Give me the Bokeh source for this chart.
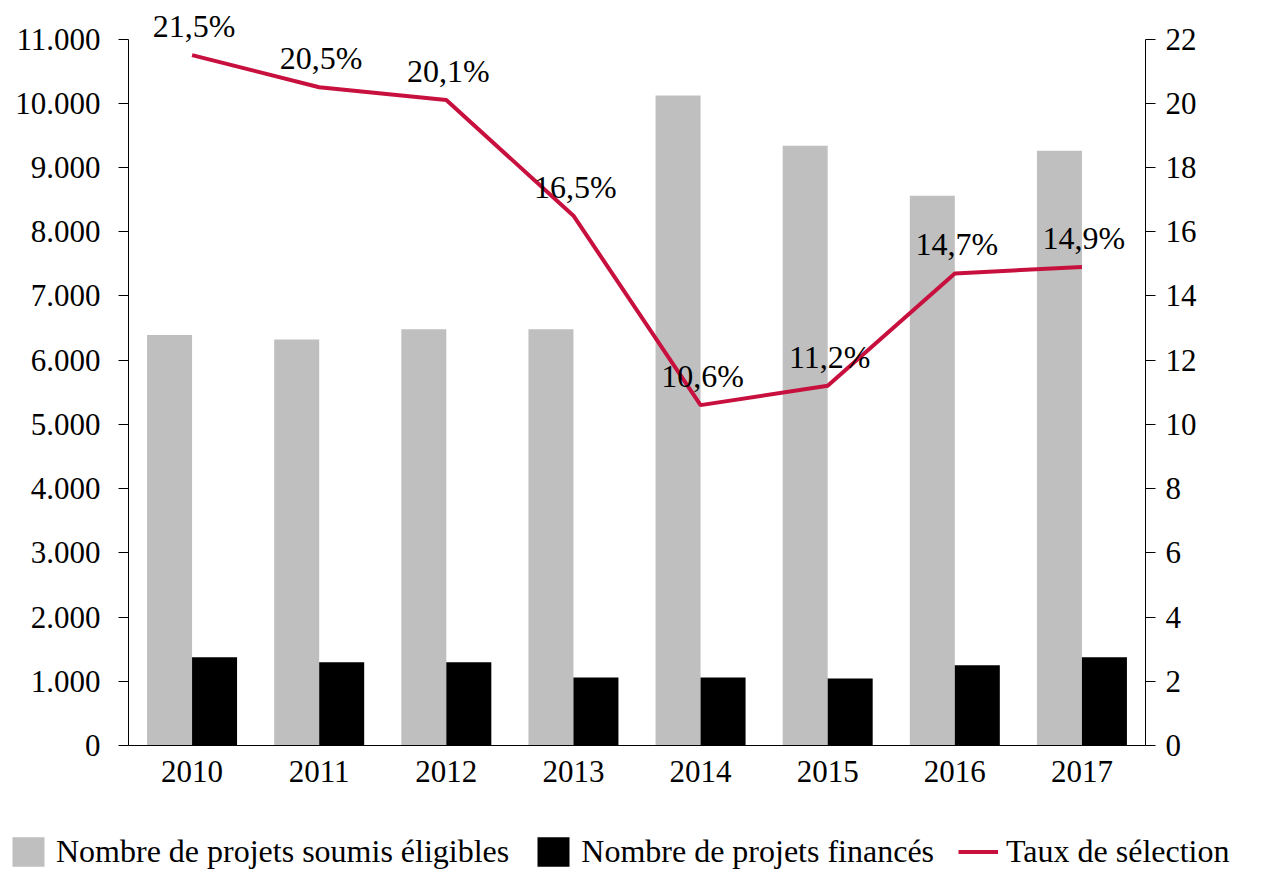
from bokeh.plotting import figure
from bokeh.models import (ColumnDataSource, Range1d, LinearAxis, FixedTicker, LabelSet,
                          Legend, LegendItem, FactorRange)
from bokeh.transform import dodge
from bokeh.embed import file_html
from bokeh.resources import INLINE

years = ["2010", "2011", "2012", "2013", "2014", "2015", "2016", "2017"]
soumis = [6390, 6320, 6480, 6480, 10120, 9340, 8560, 9260]
finances = [1375, 1295, 1295, 1060, 1060, 1045, 1250, 1375]
taux = [21.5, 20.5, 20.1, 16.5, 10.6, 11.2, 14.7, 14.9]

left_ticks = [0, 1000, 2000, 3000, 4000, 5000, 6000, 7000, 8000, 9000, 10000, 11000]
left_tick_labels = ["0", "1.000", "2.000", "3.000", "4.000", "5.000", "6.000",
                    "7.000", "8.000", "9.000", "10.000", "11.000"]
right_ticks = [0, 2, 4, 6, 8, 10, 12, 14, 16, 18, 20, 22]

FONT = "Liberation Serif"
FS_AX = "31px"
FS_TXT = "32px"
GRAY = "#BFBFBF"
RED = "#C8103E"

# frame extends above the top tick to leave room for the first label
TOP_L = 11600
TOP_R = TOP_L / 500.0

src = ColumnDataSource(dict(
    year=years, soumis=soumis, finances=finances, taux=taux,
    lbl=[f"{v:.1f}".replace(".", ",") + "%" for v in taux],
))

W, H = 1260, 800
p = figure(width=W, height=H, x_range=FactorRange(*years),
           y_range=Range1d(0, TOP_L), output_backend="svg", toolbar_location=None,
           min_border_left=128, min_border_right=W - 1145, min_border_top=0,
           min_border_bottom=H - 745)
p.extra_y_ranges = {"rate": Range1d(0, TOP_R)}
p.outline_line_color = None
p.grid.visible = False
p.background_fill_color = "white"
p.border_fill_color = "white"

r1 = p.vbar(x=dodge("year", -0.177, range=p.x_range), top="soumis", width=0.354,
            source=src, fill_color=GRAY, line_color=None)
r2 = p.vbar(x=dodge("year", 0.177, range=p.x_range), top="finances", width=0.354,
            source=src, fill_color="black", line_color=None)
r3 = p.line(x="year", y="taux", source=src, y_range_name="rate",
            line_color=RED, line_width=4)

labels = LabelSet(x="year", y="taux", text="lbl", source=src, y_range_name="rate",
                  text_align="center", text_baseline="bottom", y_offset=11, x_offset=2,
                  text_font=FONT, text_font_size=FS_TXT, text_color="black")
p.add_layout(labels)

# left axis
ya = p.yaxis[0]
ya.ticker = FixedTicker(ticks=left_ticks)
ya.bounds = (0, 11000)
ya.major_label_overrides = {t: s for t, s in zip(left_ticks, left_tick_labels)}
ya.minor_tick_line_color = None
ya.major_tick_in = 0
ya.major_tick_out = 10
ya.major_label_standoff = 18
ya.major_label_text_font = FONT
ya.major_label_text_font_size = FS_AX
ya.major_label_text_color = "black"
ya.axis_line_color = "black"
ya.major_tick_line_color = "black"

# right axis
ra = LinearAxis(y_range_name="rate", ticker=FixedTicker(ticks=right_ticks))
ra.bounds = (0, 22)
ra.minor_tick_line_color = None
ra.major_tick_in = 0
ra.major_tick_out = 10
ra.major_label_standoff = 10
ra.major_label_text_font = FONT
ra.major_label_text_font_size = FS_AX
ra.major_label_text_color = "black"
ra.axis_line_color = "black"
ra.major_tick_line_color = "black"
p.add_layout(ra, "right")

# x axis
xa = p.xaxis[0]
xa.major_tick_line_color = None
xa.minor_tick_line_color = None
xa.major_tick_out = 0
xa.major_label_standoff = 15
xa.major_label_text_font = FONT
xa.major_label_text_font_size = FS_AX
xa.major_label_text_color = "black"
xa.axis_line_color = "black"

# legend strip below the chart (separate root, so its frame is not aligned)
lg = figure(width=W, height=80, x_range=Range1d(0, 1), y_range=Range1d(0, 1),
            output_backend="svg", toolbar_location=None,
            min_border_left=0, min_border_right=0, min_border_top=0, min_border_bottom=0)
lg.axis.visible = False
lg.grid.visible = False
lg.outline_line_color = None
offscreen = ColumnDataSource(dict(x=[-5], y=[-5]))
l1 = lg.vbar(x="x", top="y", width=0.1, source=offscreen, fill_color=GRAY, line_color=None)
l2 = lg.vbar(x="x", top="y", width=0.1, source=offscreen, fill_color="black", line_color=None)
l3 = lg.line(x="x", y="y", source=offscreen, line_color=RED, line_width=4)

legend = Legend(items=[
    LegendItem(label="Nombre de projets soumis éligibles", renderers=[l1]),
    LegendItem(label="Nombre de projets financés", renderers=[l2]),
    LegendItem(label="Taux de sélection", renderers=[l3]),
], orientation="horizontal", location=(8, 10),
    glyph_width=40, glyph_height=37, label_standoff=8, spacing=24, padding=0,
    margin=0, border_line_color=None, background_fill_alpha=0,
    label_text_font=FONT, label_text_font_size=FS_TXT, label_text_color="black")
lg.add_layout(legend, "center")

open("out.html", "w").write(file_html([p, lg], INLINE))
